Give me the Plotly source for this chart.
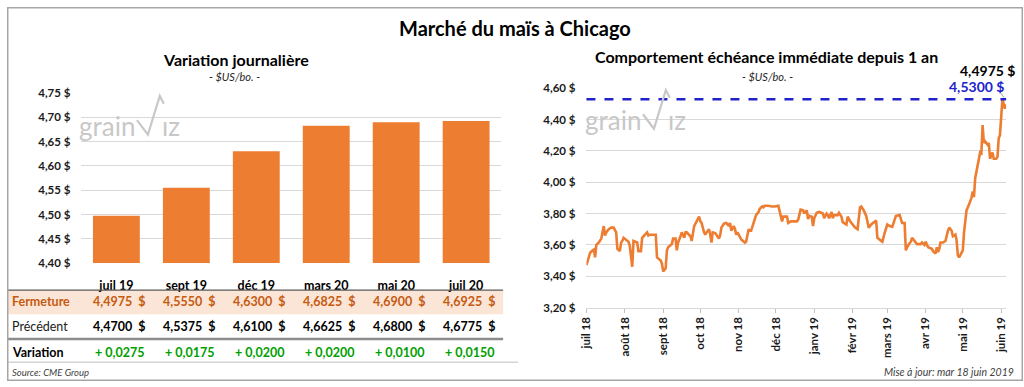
import plotly.graph_objects as go

# ---------------- data ----------------
contracts = ["juil 19", "sept 19", "déc 19", "mars 20", "mai 20", "juil 20"]
closing = [4.4975, 4.5550, 4.6300, 4.6825, 4.6900, 4.6925]
previous = [4.4700, 4.5375, 4.6100, 4.6625, 4.6800, 4.6775]

month_ticks = ["2018-07-01", "2018-08-01", "2018-09-01", "2018-10-01", "2018-11-01", "2018-12-01",
               "2019-01-01", "2019-02-01", "2019-03-01", "2019-04-01", "2019-05-01", "2019-06-01"]
month_labels = ["juil 18", "août 18", "sept 18", "oct 18", "nov 18", "déc 18",
                "janv 19", "févr 19", "mars 19", "avr 19", "mai 19", "juin 19"]

dates = [
    "2018-07-01", "2018-07-03", "2018-07-04", "2018-07-06", "2018-07-07", "2018-07-08", "2018-07-09",
    "2018-07-11", "2018-07-13", "2018-07-14", "2018-07-15", "2018-07-16", "2018-07-17", "2018-07-19",
    "2018-07-21", "2018-07-23", "2018-07-25", "2018-07-26", "2018-07-27", "2018-07-28", "2018-07-29",
    "2018-07-30", "2018-07-31", "2018-08-02", "2018-08-04", "2018-08-05", "2018-08-06", "2018-08-07",
    "2018-08-08", "2018-08-10", "2018-08-11", "2018-08-12", "2018-08-14", "2018-08-15", "2018-08-17",
    "2018-08-19", "2018-08-20", "2018-08-21", "2018-08-23", "2018-08-26", "2018-08-27", "2018-08-28",
    "2018-08-30", "2018-08-31", "2018-09-01", "2018-09-03", "2018-09-04", "2018-09-05", "2018-09-08",
    "2018-09-09", "2018-09-11", "2018-09-12", "2018-09-13", "2018-09-15", "2018-09-16", "2018-09-18",
    "2018-09-19", "2018-09-20", "2018-09-23", "2018-09-24", "2018-09-26", "2018-09-28", "2018-09-30",
    "2018-10-01", "2018-10-02", "2018-10-04", "2018-10-05", "2018-10-06", "2018-10-08", "2018-10-09",
    "2018-10-10", "2018-10-11", "2018-10-13", "2018-10-14", "2018-10-16", "2018-10-17", "2018-10-18",
    "2018-10-20", "2018-10-22", "2018-10-24", "2018-10-25", "2018-10-26", "2018-10-28", "2018-10-29",
    "2018-10-30", "2018-10-31", "2018-11-02", "2018-11-03", "2018-11-06", "2018-11-07", "2018-11-09",
    "2018-11-10", "2018-11-11", "2018-11-13", "2018-11-14", "2018-11-15", "2018-11-17", "2018-11-18",
    "2018-11-20", "2018-11-21", "2018-11-22", "2018-11-25", "2018-11-28", "2018-11-30", "2018-12-03",
    "2018-12-04", "2018-12-06", "2018-12-07", "2018-12-10", "2018-12-11", "2018-12-13", "2018-12-15",
    "2018-12-18", "2018-12-19", "2018-12-21", "2018-12-23", "2018-12-24", "2018-12-26", "2018-12-27",
    "2018-12-28", "2018-12-30", "2018-12-31", "2019-01-01", "2019-01-03", "2019-01-05", "2019-01-08",
    "2019-01-09", "2019-01-11", "2019-01-12", "2019-01-13", "2019-01-15", "2019-01-16", "2019-01-17",
    "2019-01-20", "2019-01-21", "2019-01-23", "2019-01-24", "2019-01-27", "2019-01-28", "2019-01-30",
    "2019-01-31", "2019-02-03", "2019-02-05", "2019-02-07", "2019-02-08", "2019-02-10", "2019-02-12",
    "2019-02-14", "2019-02-16", "2019-02-18", "2019-02-20", "2019-02-21", "2019-02-23", "2019-02-25",
    "2019-02-27", "2019-03-01", "2019-03-03", "2019-03-05", "2019-03-08", "2019-03-11", "2019-03-13",
    "2019-03-15", "2019-03-16", "2019-03-17", "2019-03-19", "2019-03-20", "2019-03-21", "2019-03-23",
    "2019-03-24", "2019-03-25", "2019-03-28", "2019-03-29", "2019-03-31", "2019-04-01", "2019-04-03",
    "2019-04-05", "2019-04-06", "2019-04-07", "2019-04-09", "2019-04-10", "2019-04-11", "2019-04-12",
    "2019-04-13", "2019-04-15", "2019-04-17", "2019-04-19", "2019-04-20", "2019-04-22", "2019-04-23",
    "2019-04-25", "2019-04-26", "2019-04-27", "2019-04-28", "2019-04-29", "2019-05-01", "2019-05-02",
    "2019-05-03", "2019-05-04", "2019-05-06", "2019-05-08", "2019-05-09", "2019-05-10", "2019-05-11",
    "2019-05-12", "2019-05-14", "2019-05-15", "2019-05-16", "2019-05-17", "2019-05-18", "2019-05-19",
    "2019-05-21", "2019-05-22", "2019-05-23", "2019-05-25", "2019-05-26", "2019-05-28", "2019-05-29",
    "2019-05-30", "2019-05-31", "2019-06-01", "2019-06-02", "2019-06-03", "2019-06-04", "2019-06-05",
]
prices = [
    3.47, 3.52, 3.55, 3.565, 3.57, 3.52, 3.60,
    3.615, 3.64, 3.68, 3.72, 3.66, 3.68, 3.70,
    3.71, 3.71, 3.68, 3.575, 3.57, 3.56, 3.615,
    3.625, 3.645, 3.635, 3.62, 3.595, 3.51, 3.46,
    3.625, 3.62, 3.615, 3.56, 3.56, 3.645, 3.665,
    3.68, 3.66, 3.665, 3.665, 3.665, 3.52, 3.515,
    3.50, 3.48, 3.43, 3.45, 3.565, 3.585, 3.605,
    3.64, 3.64, 3.565, 3.615, 3.655, 3.68, 3.645,
    3.68, 3.68, 3.655, 3.625, 3.72, 3.75, 3.78,
    3.75, 3.74, 3.68, 3.665, 3.68, 3.70, 3.665,
    3.615, 3.68, 3.675, 3.665, 3.64, 3.66, 3.71,
    3.735, 3.74, 3.72, 3.74, 3.69, 3.72, 3.70,
    3.665, 3.68, 3.655, 3.635, 3.615, 3.62, 3.70,
    3.69, 3.69, 3.74, 3.75, 3.79, 3.81, 3.83,
    3.845, 3.84, 3.85, 3.85, 3.845, 3.845, 3.85,
    3.81, 3.75, 3.78, 3.78, 3.74, 3.75, 3.75,
    3.75, 3.76, 3.825, 3.82, 3.80, 3.82, 3.765,
    3.785, 3.78, 3.72, 3.77, 3.805, 3.81, 3.80,
    3.77, 3.80, 3.79, 3.77, 3.81, 3.77, 3.79,
    3.79, 3.805, 3.78, 3.745, 3.73, 3.78, 3.75,
    3.74, 3.71, 3.70, 3.84, 3.845, 3.82, 3.785,
    3.71, 3.73, 3.745, 3.755, 3.645, 3.635, 3.62,
    3.68, 3.73, 3.72, 3.715, 3.785, 3.79, 3.74,
    3.74, 3.565, 3.585, 3.61, 3.62, 3.645, 3.625,
    3.615, 3.605, 3.605, 3.615, 3.60, 3.62, 3.585,
    3.58, 3.575, 3.56, 3.545, 3.585, 3.555, 3.575,
    3.615, 3.615, 3.625, 3.69, 3.71, 3.69, 3.655,
    3.665, 3.63, 3.535, 3.52, 3.535, 3.565, 3.68,
    3.77, 3.82, 3.857, 3.90, 3.94, 3.905, 4.025,
    4.067, 4.15, 4.19, 4.185, 4.365, 4.25, 4.26,
    4.24, 4.25, 4.15, 4.19, 4.15, 4.15, 4.16,
    4.28, 4.30, 4.415, 4.53, 4.50, 4.47, 4.4975,
]

variation = [round(c - p, 4) for c, p in zip(closing, previous)]

# ---------------- helpers ----------------
W, H = 1024, 387
FONT = "Lato"
ORANGE = "#ED7D31"
GRID = "#D9D9D9"


def px(x):
    return x / W


def py(y):
    return 1 - y / H


def fr(v, nd=4):
    return f"{v:.{nd}f}".replace(".", ",")


def text(t, x, y, size, color="black", weight="normal", xanchor="center", xref="paper", xshift=0):
    return dict(text=t, xref=xref, yref="paper", x=x, y=y, xanchor=xanchor, yanchor="middle",
                xshift=xshift, showarrow=False,
                font=dict(family=FONT, size=size, color=color, weight=weight))


fig = go.Figure()

fig.add_trace(go.Bar(x=contracts, y=closing, marker=dict(color=ORANGE, line=dict(width=0)),
                     xaxis="x", yaxis="y", hoverinfo="skip"))
fig.add_trace(go.Scatter(x=dates, y=prices, mode="lines", line=dict(color=ORANGE, width=2.6),
                         xaxis="x2", yaxis="y2", hoverinfo="skip"))

tickfont = dict(family=FONT, size=11.5, color="#1a1a1a", weight="bold")

fig.update_layout(
    width=W, height=H,
    margin=dict(l=0, r=0, t=0, b=0),
    paper_bgcolor="white", plot_bgcolor="white",
    showlegend=False,
    separators=", ",
    bargap=0.33,
    font=dict(family=FONT, color="black"),
    xaxis=dict(domain=[px(75), px(498)], anchor="y", type="category",
               showgrid=False, showline=False, ticks="", ticklabelstandoff=13,
               tickfont=dict(family=FONT, size=12.5, color="black", weight="bold")),
    yaxis=dict(domain=[py(265), py(89)], anchor="x", range=[4.40, 4.75],
               tick0=4.40, dtick=0.05, tickformat=".2f", ticksuffix=" $",
               showgrid=True, gridcolor=GRID, gridwidth=1, zeroline=False,
               ticklabelstandoff=10, tickfont=tickfont),
    xaxis2=dict(domain=[px(584), px(1007)], anchor="y2", type="date",
                range=["2018-07-01", "2019-06-05"],
                tickmode="array", tickvals=month_ticks, ticktext=month_labels,
                tickangle=-90, ticks="outside", ticklen=4, tickcolor="#BFBFBF",
                showline=True, linecolor=GRID, showgrid=False,
                tickfont=tickfont),
    yaxis2=dict(domain=[py(311), py(84)], anchor="x2", range=[3.20, 4.60],
                tick0=3.20, dtick=0.20, tickformat=".2f", ticksuffix=" $",
                showgrid=True, gridcolor=GRID, gridwidth=1, zeroline=False,
                ticklabelstandoff=10, tickfont=tickfont),
)

shapes = []
# reference line at one-year high
shapes.append(dict(type="line", xref="x2 domain", yref="y2", x0=0, x1=1,
                   y0=max(prices), y1=max(prices),
                   line=dict(color="#2222CC", width=2.5, dash="dash")))
# table decorations
shapes.append(dict(type="rect", xref="paper", yref="paper", x0=px(1), x1=px(500), y0=py(318), y1=py(293),
                   fillcolor="#FBE5D6", line=dict(width=0), layer="below"))
shapes.append(dict(type="line", xref="paper", yref="paper", x0=px(1), x1=px(500), y0=py(293), y1=py(293),
                   line=dict(color="#595959", width=1.2)))
shapes.append(dict(type="line", xref="paper", yref="paper", x0=px(1), x1=px(500), y0=py(343.5), y1=py(343.5),
                   line=dict(color="#8C8C8C", width=2.5)))
shapes.append(dict(type="line", xref="paper", yref="paper", x0=px(1), x1=px(515), y0=py(367.5), y1=py(367.5),
                   line=dict(color="#BFBFBF", width=1)))
# outer frame
shapes.append(dict(type="rect", xref="paper", yref="paper", x0=px(0.75), x1=px(1023.25), y0=py(386.25), y1=py(0.75),
                   line=dict(color="#A6A6A6", width=1.5), fillcolor="rgba(0,0,0,0)"))

# watermark logos ("grain" + check stroke + "iz")
WM = "#C8C8C8"
ann = []
for dx, dy in [(0, 0), (510, -6)]:
    ann.append(text("grain", px(71 + dx), py(123 + dy), 26, WM, xanchor="left"))
    path = (f"M {px(131 + dx)} {py(117 + dy)} L {px(142 + dx)} {py(132 + dy)} "
            f"L {px(154 + dx)} {py(92 + dy)} L {px(158 + dx)} {py(100 + dy)}")
    shapes.append(dict(type="path", xref="paper", yref="paper", path=path,
                       line=dict(color=WM, width=2.2)))
    ann.append(text("ız", px(154 + dx), py(123 + dy), 26, WM, xanchor="left"))

# leader from the high label to the peak
shapes.append(dict(type="line", xref="paper", yref="paper", x0=px(1001), x1=px(1005), y0=py(88), y1=py(94),
                   line=dict(color="#A6A6A6", width=1)))

# titles
ann.append(text("Marché du maïs à Chicago", px(512), py(22), 20, weight="bold"))
ann.append(text("Variation journalière", px(231), py(54), 16, weight="bold"))
ann.append(text("<i>- $US/bo. -</i>", px(229), py(72), 11, "#262626"))
ann.append(text("Comportement échéance immédiate depuis 1 an", px(765), py(51), 16, weight="bold"))
ann.append(text("<i>- $US/bo. -</i>", px(766), py(72), 11, "#262626"))

# right chart value labels
ann.append(text(f"{fr(prices[-1])} $", px(1018), py(66), 14, "black", "bold", xanchor="right"))
ann.append(text(f"{fr(max(prices))} $", px(1007), py(82), 14, "#2222CC", "bold", xanchor="right"))

# table
rows = [
    ("Fermeture", 305, "#C55A11", "bold", [f"{fr(v)}  $" for v in closing], "#C55A11"),
    ("Précédent", 331, "#1a1a1a", "normal", [f"{fr(v)}  $" for v in previous], "black"),
    ("Variation", 358, "black", "bold", [f"+ {fr(v)}" for v in variation], "#00A000"),
]
for label, yy, lcol, lw, vals, vcol in rows:
    ann.append(text(label, px(3), py(yy), 12.5, lcol, lw, xanchor="left"))
    for c, t in zip(contracts, vals):
        ann.append(text(t, c, py(yy), 12.5, vcol, "bold", xanchor="center", xref="x", xshift=3))

ann.append(text("<i>Source: CME Group</i>", px(3), py(378), 9.5, "#404040", xanchor="left"))
ann.append(text("<i>Mise à jour: mar 18 juin 2019</i>", px(1017), py(378), 10.5, "#404040", xanchor="right"))

fig.update_layout(shapes=shapes, annotations=ann)

post = (
    "document.documentElement.style.margin='0';document.documentElement.style.padding='0';"
    "document.documentElement.style.overflow='hidden';document.documentElement.style.height='387px';"
    "document.body.style.margin='0';document.body.style.padding='0';"
    "document.body.style.overflow='hidden';document.body.style.height='387px';"
    "var gd=document.getElementById('{plot_id}');"
    "var p=gd.parentElement;p.style.height='387px';p.style.overflow='hidden';"
    "p.style.lineHeight='0';p.style.fontSize='0';"
)
fig.write_html("out.html", config={"displayModeBar": False}, post_script=post)
